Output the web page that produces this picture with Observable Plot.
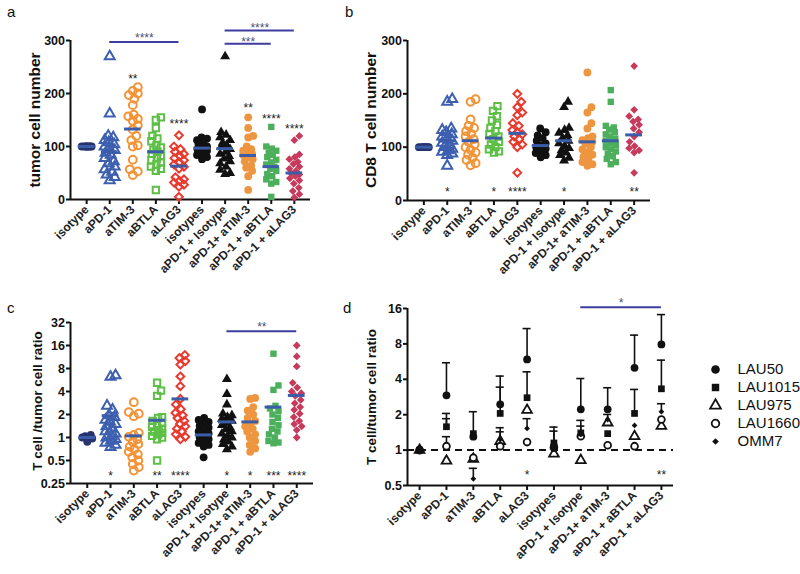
<!DOCTYPE html>
<html>
<head>
<meta charset="utf-8">
<script src="https://cdn.jsdelivr.net/npm/d3@7"></script>
<script src="https://cdn.jsdelivr.net/npm/@observablehq/plot@0.6"></script>
<style>
  body { margin: 0; background: #fff; font-family: "Liberation Sans", Arial, sans-serif; }
  #chart { position: relative; width: 800px; height: 574px; overflow: hidden; background: #fff; }
  .panel { position: absolute; }
  .letter { position: absolute; font-size: 15px; line-height: 1; color: #111; }
  .ylab { position: absolute; font-weight: bold; white-space: nowrap; line-height: 1; color: #111;
          transform: translate(-50%, -50%) rotate(-90deg); }
</style>
</head>
<body>
<div id="chart"></div>
<script>
// ---------------- DATA ----------------
const categories = ["isotype", "aPD-1", "aTIM-3", "aBTLA", "aLAG3", "isotypes",
  "aPD-1 + Isotype", "aPD-1+ aTIM-3", "aPD-1 + aBTLA", "aPD-1 + aLAG3"];

// panel a: tumor cell number (one list per category)
const tumorCellNumber = [
  [100, 100, 100, 100, 100, 100, 100, 100],
  [270, 162, 120, 117, 112, 108, 104, 100, 97, 93, 88, 84, 78, 72, 68, 62, 57, 52, 47, 42, 36],
  [212, 205, 200, 197, 190, 178, 160, 157, 152, 148, 140, 132, 120, 112, 102, 100, 75, 57, 53, 46],
  [155, 150, 135, 120, 115, 110, 102, 98, 94, 90, 86, 82, 78, 74, 70, 66, 62, 58, 54, 18],
  [121, 100, 95, 90, 86, 82, 78, 74, 70, 66, 62, 58, 42, 38, 35, 32, 28, 24, 5],
  [170, 117, 115, 112, 107, 104, 100, 98, 95, 92, 88, 84, 80, 76],
  [270, 127, 122, 117, 112, 107, 103, 99, 95, 90, 86, 82, 77, 72, 68, 62, 56, 50, 48],
  [155, 135, 120, 117, 100, 95, 92, 89, 86, 84, 80, 76, 72, 64, 60, 54, 44, 18],
  [137, 100, 96, 92, 88, 84, 80, 75, 70, 66, 62, 58, 54, 48, 44, 38, 33, 30, 5],
  [120, 112, 85, 80, 76, 71, 67, 62, 58, 54, 50, 47, 44, 40, 36, 30, 22, 16, 10, 4]
];
const tumorMeans = [100, 90, 133, 90, 63, 97, 96, 83, 62, 50];
const tumorStars = ["", "", "**", "", "****", "", "", "**", "****", "****"];
const tumorStarY = [null, null, 228, null, 143, null, null, 172, 151, 132];
const tumorBracketFrom = [1, 6, 6];
const tumorBracketTo = [4, 9, 8];
const tumorBracketY = [297, 319, 294];
const tumorBracketLabelY = [304, 323, 297.5];
const tumorBracketLabel = ["****", "****", "***"];

// panel b: CD8 T cell number
const cd8TCellNumber = [
  [100, 100, 100, 100, 100, 100, 100, 100],
  [190, 185, 135, 132, 128, 124, 120, 116, 112, 108, 104, 100, 97, 94, 91, 88, 85, 65],
  [190, 185, 152, 140, 136, 130, 125, 120, 115, 110, 105, 100, 95, 90, 86, 80, 76, 70, 66],
  [177, 168, 158, 150, 142, 136, 130, 125, 120, 115, 110, 105, 100, 96, 92, 90],
  [200, 185, 175, 165, 160, 145, 140, 132, 128, 124, 120, 115, 110, 105, 100, 52],
  [135, 128, 122, 117, 112, 107, 103, 100, 97, 93, 89, 85, 81],
  [185, 175, 136, 132, 127, 122, 117, 112, 107, 102, 98, 94, 90, 85, 80, 75],
  [240, 175, 165, 145, 135, 120, 117, 113, 110, 106, 100, 96, 90, 86, 82, 78, 72, 68, 65],
  [207, 185, 140, 137, 133, 128, 124, 120, 116, 112, 108, 104, 100, 96, 92, 88, 83, 78, 72, 68],
  [252, 170, 158, 152, 148, 142, 135, 128, 120, 110, 102, 98, 94, 90, 52]
];
const cd8Means = [100, 112, 112, 117, 126, 103, 112, 110, 112, 123];
const cd8Stars = ["", "*", "", "*", "****", "", "*", "", "", "**"];
const cd8StarY = [null, 15, null, 15, 15, null, 15, null, null, 15];

// panel c: T cell / tumor cell ratio
const tumorRatio = [
  [1.08, 1.04, 1.0, 1.0, 0.97, 0.88],
  [6.5, 6.2, 2.6, 2.3, 1.95, 1.85, 1.7, 1.6, 1.5, 1.4, 1.3, 1.2, 1.12, 1.05, 1.0, 0.95, 0.9, 0.85, 0.8, 0.75],
  [2.9, 2.15, 2.05, 1.9, 1.15, 1.08, 1.02, 0.95, 0.88, 0.82, 0.76, 0.7, 0.65, 0.6, 0.55, 0.5, 0.45, 0.41, 0.37],
  [5.2, 4.1, 3.5, 1.85, 1.8, 1.65, 1.55, 1.45, 1.38, 1.3, 1.25, 1.2, 1.15, 1.1, 1.05, 1.0, 0.95, 0.5],
  [12, 11, 10, 9, 6.3, 4.7, 3.2, 2.7, 2.35, 2.1, 1.95, 1.8, 1.65, 1.5, 1.4, 1.3, 1.2, 1.1, 1.02, 0.95],
  [1.8, 1.7, 1.6, 1.5, 1.42, 1.35, 1.28, 1.2, 1.13, 1.06, 1.0, 0.95, 0.9, 0.85, 0.8, 0.76, 0.55],
  [5.8, 3.7, 2.7, 2.05, 1.95, 1.85, 1.75, 1.65, 1.55, 1.45, 1.35, 1.28, 1.2, 1.12, 1.05, 1.0, 0.94, 0.88, 0.82, 0.76, 0.7],
  [3.3, 3.2, 2.5, 2.25, 2.0, 1.8, 1.65, 1.5, 1.4, 1.3, 1.2, 1.1, 1.0, 0.9, 0.8, 0.72, 0.65],
  [12.5, 4.8, 4.2, 2.6, 2.4, 2.2, 2.0, 1.8, 1.6, 1.45, 1.3, 1.2, 1.1, 1.0, 0.9, 0.86, 0.84],
  [16, 11.5, 8.5, 5.2, 4.5, 4.0, 3.8, 3.5, 3.1, 2.8, 2.5, 2.3, 2.05, 1.85, 1.65, 1.5, 1.4, 1.25, 1.0]
];
const ratioMeans = [1.0, 1.93, 1.05, 1.68, 3.2, 1.08, 1.6, 1.6, 2.5, 3.55];
const ratioStars = ["", "*", "", "**", "****", "", "*", "*", "***", "****"];
const ratioStarY = [null, 0.309, null, 0.309, 0.309, null, 0.309, 0.309, 0.309, 0.309];
const ratioBracketFrom = [6];
const ratioBracketTo = [9];
const ratioBracketY = [24.6];
const ratioBracketLabelY = [28.1];
const ratioBracketLabel = ["**"];

// panel d: per tumor line (mean and upper error bar)
const strains = ["LAU50", "LAU1015", "LAU975", "LAU1660", "OMM7"];
const lau50 = [1, 2.92, 1.3, 2.45, 5.9, 1.08, 2.22, 2.22, 5.01, 7.92];
const lau50Err = [null, 5.53, null, 4.26, 10.8, 1.45, 4.06, 3.39, 9.5, 14.2];
const lau1015 = [1, 1.58, 1.38, 2.05, 2.79, 1.15, 1.4, 1.38, 2.05, 3.32];
const lau1015Err = [null, 2.05, 2.12, 3.43, 4.63, 1.57, 1.79, null, 3.28, 5.82];
const lau975 = [1, 0.81, 0.84, 1.19, 2.19, 0.93, 0.82, 1.71, 1.31, 1.6];
const lau975Err = [null, null, null, 1.55, null, null, null, 2.01, null, null];
const lau1660 = [1, 1.08, 0.86, 1.08, 1.17, 1.05, 1.31, 1.1, 1.08, 1.82];
const lau1660Err = [null, 1.3, null, null, null, null, null, null, null, null];
const omm7 = [1, 1.6, 0.57, 1.23, 1.53, 1.1, 1.36, 1.82, 1.62, 2.12];
const omm7Err = [null, 1.85, 0.70, 1.43, 1.85, null, 1.6, null, null, 2.48];
const dStars = ["", "", "", "", "*", "", "", "", "", "**"];
const dStarY = [null, null, null, null, 0.61, null, null, null, null, 0.61];
const dBracketFrom = [6];
const dBracketTo = [9];
const dBracketY = [16.4];
const dBracketLabelY = [17.7];
const dBracketLabel = ["*"];

// ---------------- STYLE ----------------
const markerSymbol = ["circle", "triangle", "circle", "square", "diamond2", "circle", "triangle", "circle", "square", "diamond2"];
const markerColor = ["#27336f", "#3d5fb0", "#f39336", "#5dbf45", "#e83a2e", "#111111", "#111111", "#ee9540", "#4caf5c", "#c73a5c"];
const markerOpen = [false, true, true, true, true, false, false, false, false, false];
const markerR = [3.9, 3.7, 3.9, 3.6, 3.5, 3.9, 3.7, 3.9, 3.6, 3.5];
const meanColor = "#3b5ca8";
const bracketColor = "#3d3d9f";
const svgStyle = {fontFamily: '"Liberation Sans", Arial, sans-serif', fontWeight: "bold",
  color: "#111", background: "transparent", overflow: "visible"};

const chart = document.getElementById("chart");
function place(node, box) {
  const d = document.createElement("div");
  d.className = "panel";
  d.style.left = box.left + "px"; d.style.top = box.top + "px";
  d.style.width = box.width + "px"; d.style.height = box.height + "px";
  d.appendChild(node);
  chart.appendChild(d);
}
function addText(cls, text, x, y, size) {
  const d = document.createElement("div");
  d.className = cls; d.textContent = text;
  d.style.left = x + "px"; d.style.top = y + "px";
  if (size) d.style.fontSize = size + "px";
  chart.appendChild(d);
}
function margins(box, f) {
  return {marginLeft: f.x0 - box.left, marginRight: box.left + box.width - f.x1,
          marginTop: f.y0 - box.top, marginBottom: box.top + box.height - f.y1};
}
function pxOf(cfg) {
  const H = cfg.frame.y1 - cfg.frame.y0, [d0, d1] = cfg.yDomain;
  return cfg.yType === "log" ? v => H * Math.log2(v / d0) / Math.log2(d1 / d0)
                             : v => H * (v - d0) / (d1 - d0);
}
// simple deterministic beeswarm (layout only)
function swarm(py, minD, maxOff) {
  const order = d3.range(py.length).sort((a, b) => py[a] - py[b]);
  const cands = [0];
  for (let s = 0.5; s <= maxOff + 1e-9; s += 0.5) cands.push(s, -s);
  const placed = [], off = new Array(py.length).fill(0);
  for (const k of order) {
    let best = null, fb = 0, fbScore = -Infinity;
    for (const c of cands) {
      let md = Infinity;
      for (const q of placed) md = Math.min(md, Math.hypot(q.x - c, q.y - py[k]));
      if (md >= minD) { best = c; break; }
      if (md > fbScore) { fbScore = md; fb = c; }
    }
    if (best === null) best = fb;
    placed.push({x: best, y: py[k]}); off[k] = best;
  }
  return off;
}

function axes(cfg) {
  return [
    Plot.ruleY([cfg.yDomain[0]], {stroke: "#111", strokeWidth: 2}),
    Plot.ruleX([cfg.xDomain[0]], {stroke: "#111", strokeWidth: 2}),
    Plot.axisY(cfg.yTicks, {tickSize: 4, strokeWidth: 2, tickPadding: 1.5, fontSize: 12.5,
      label: null, tickFormat: d => String(d), fill: "#111"}),
    Plot.axisX(d3.range(categories.length), {tickSize: 5, strokeWidth: 2, tickPadding: 3,
      tickRotate: -45, fontSize: 12, label: null, tickFormat: i => categories[i], fill: "#222"})
  ];
}
function starMarks(stars, starY) {
  const rows = stars.map((s, i) => ({i, s, y: starY[i]})).filter(d => d.s);
  return Plot.text(rows, {x: "i", y: "y", text: "s", fontSize: 12, fontWeight: "normal", fill: "#222"});
}
function bracketMarks(from, to, y, ly, label) {
  const rows = from.map((f, k) => ({from: f, to: to[k], y: y[k], ly: ly[k], s: label[k]}));
  return [
    Plot.ruleY(rows, {y: "y", x1: "from", x2: "to", stroke: bracketColor, strokeWidth: 2}),
    Plot.text(rows, {x: d => (d.from + d.to) / 2, y: "ly", text: "s", fontSize: 12,
      fontWeight: "normal", fill: "#4a4f7a"})
  ];
}

function scatterPanel(cfg) {
  const px = pxOf(cfg);
  const stepPx = (cfg.frame.x1 - cfg.frame.x0) / (cfg.xDomain[1] - cfg.xDomain[0]);
  const groups = cfg.data.map((vals, i) => {
    const off = swarm(vals.map(px), 6.5, 5);
    return vals.map((v, k) => ({i, v, x: i + off[k] / stepPx}));
  });
  const dots = groups.map((pts, i) => Plot.dot(pts, {
    x: "x", y: "v", symbol: markerSymbol[i], r: markerR[i],
    fill: markerOpen[i] ? "none" : markerColor[i],
    stroke: markerOpen[i] ? markerColor[i] : "none", strokeWidth: 2
  }));
  const means = cfg.means.map((m, i) => ({i, m}));
  const marks = [
    ...axes(cfg),
    ...dots,
    Plot.ruleY(means, {y: "m", x1: d => d.i - 0.36, x2: d => d.i + 0.36, stroke: meanColor, strokeWidth: 3}),
    starMarks(cfg.stars, cfg.starY)
  ];
  if (cfg.brackets) marks.push(...bracketMarks(...cfg.brackets));
  const y = cfg.yType === "log" ? {type: "log", base: 2, domain: cfg.yDomain} : {domain: cfg.yDomain};
  return Plot.plot({
    width: cfg.box.width, height: cfg.box.height, ...margins(cfg.box, cfg.frame),
    x: {domain: cfg.xDomain}, y, style: svgStyle, marks
  });
}

// panel a
const cfgA = {box: {left: 0, top: 0, width: 340, height: 290}, frame: {x0: 70, x1: 310, y0: 40, y1: 199},
  xDomain: [-0.7, 9.7], yDomain: [0, 300], yType: "linear", yTicks: [0, 100, 200, 300],
  data: tumorCellNumber, means: tumorMeans, stars: tumorStars, starY: tumorStarY,
  brackets: [tumorBracketFrom, tumorBracketTo, tumorBracketY, tumorBracketLabelY, tumorBracketLabel]};
place(scatterPanel(cfgA), cfgA.box);

// panel b
const cfgB = {box: {left: 340, top: 0, width: 330, height: 290}, frame: {x0: 407, x1: 650, y0: 40, y1: 200},
  xDomain: [-0.7, 9.7], yDomain: [0, 300], yType: "linear", yTicks: [0, 100, 200, 300],
  data: cd8TCellNumber, means: cd8Means, stars: cd8Stars, starY: cd8StarY};
place(scatterPanel(cfgB), cfgB.box);

// panel c
const cfgC = {box: {left: 0, top: 290, width: 340, height: 284}, frame: {x0: 70, x1: 313, y0: 322, y1: 483},
  xDomain: [-0.72, 9.72], yDomain: [0.25, 32], yType: "log", yTicks: [0.25, 0.5, 1, 2, 4, 8, 16, 32],
  data: tumorRatio, means: ratioMeans, stars: ratioStars, starY: ratioStarY,
  brackets: [ratioBracketFrom, ratioBracketTo, ratioBracketY, ratioBracketLabelY, ratioBracketLabel]};
place(scatterPanel(cfgC), cfgC.box);

// panel d
const cfgD = {box: {left: 340, top: 290, width: 345, height: 284}, frame: {x0: 407, x1: 673, y0: 308, y1: 485},
  xDomain: [-0.45, 9.45], yDomain: [0.5, 16], yType: "log", yTicks: [0.5, 1, 2, 4, 8, 16]};
const strainValues = [lau50, lau1015, lau975, lau1660, omm7];
const strainErr = [lau50Err, lau1015Err, lau975Err, lau1660Err, omm7Err];
const strainStyle = [
  {symbol: "circle", r: 3.9, fill: "#111", stroke: "none"},
  {symbol: "square", r: 3.8, fill: "#111", stroke: "none"},
  {symbol: "triangle", r: 3.6, fill: "white", stroke: "#111", strokeWidth: 1.8},
  {symbol: "circle", r: 3.4, fill: "white", stroke: "#111", strokeWidth: 1.8},
  {symbol: "diamond2", r: 2.6, fill: "#111", stroke: "none"}
];
const errRows = [];
strainValues.forEach((vals, s) => vals.forEach((v, i) => {
  if (strainErr[s][i] != null) errRows.push({i, v, hi: strainErr[s][i]});
}));
const drawOrder = [2, 3, 0, 1, 4];
const plotD = Plot.plot({
  width: cfgD.box.width, height: cfgD.box.height, ...margins(cfgD.box, cfgD.frame),
  x: {domain: cfgD.xDomain}, y: {type: "log", base: 2, domain: cfgD.yDomain}, style: svgStyle,
  marks: [
    Plot.ruleY([1], {stroke: "#111", strokeWidth: 2, strokeDasharray: "7,5"}),
    ...axes(cfgD),
    Plot.ruleX(errRows, {x: "i", y1: "v", y2: "hi", stroke: "#111", strokeWidth: 1.6}),
    Plot.ruleY(errRows, {y: "hi", x1: d => d.i - 0.15, x2: d => d.i + 0.15, stroke: "#111", strokeWidth: 1.6}),
    ...drawOrder.map(s => Plot.dot(strainValues[s].map((v, i) => ({i, v})), {x: "i", y: "v", ...strainStyle[s]})),
    starMarks(dStars, dStarY),
    ...bracketMarks(dBracketFrom, dBracketTo, dBracketY, dBracketLabelY, dBracketLabel)
  ]
});
place(plotD, cfgD.box);

// legend for panel d
const legendBox = {left: 700, top: 340, width: 100, height: 130};
const legend = Plot.plot({
  width: legendBox.width, height: legendBox.height, margin: 0,
  y: {type: "point", domain: strains, range: [18, 112], axis: null},
  style: {...svgStyle, fontWeight: "normal"},
  marks: [
    ...strains.map((s, k) => Plot.dot([s], {y: d => d, frameAnchor: "left", dx: 15,
      ...strainStyle[k], r: k === 4 ? 3 : strainStyle[k].r + 0.4})),
    Plot.text(strains, {y: d => d, text: d => d, frameAnchor: "left", dx: 37, textAnchor: "start",
      fontSize: 15, fill: "#111"})
  ]
});
place(legend, legendBox);

// panel letters and y-axis titles
addText("letter", "a", 7, 4);
addText("letter", "b", 345, 4);
addText("letter", "c", 7, 300);
addText("letter", "d", 343, 300);
addText("ylab", "tumor cell number", 35, 120, 15.5);
addText("ylab", "CD8 T cell number", 371, 120, 15.5);
addText("ylab", "T cell /tumor cell ratio", 38, 401, 13.5);
addText("ylab", "T cell/tumor cell ratio", 372, 397, 13.5);
</script>
</body>
</html>
